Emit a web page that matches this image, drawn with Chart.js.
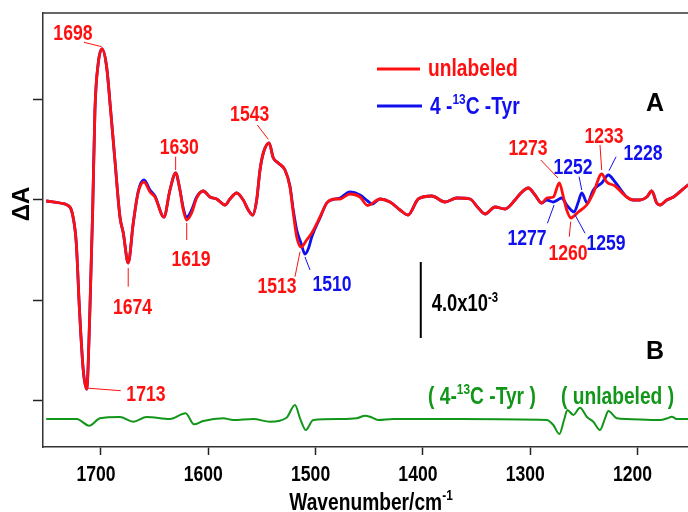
<!DOCTYPE html>
<html>
<head>
<meta charset="utf-8">
<script src="https://cdn.jsdelivr.net/npm/chart.js@4.4.1/dist/chart.umd.min.js"></script>
<style>
  html, body { margin: 0; padding: 0; background: #fff; }
  #wrap { width: 688px; height: 512px; }
</style>
</head>
<body>
<div id="wrap"><canvas id="spec"></canvas></div>
<script>
// unlabeled (red)
const wnUnlabeled = [1751, 1738, 1729, 1726, 1723, 1720, 1716.5, 1713.3, 1710.3, 1707.7, 1705.6, 1702.5, 1699, 1694.7, 1691, 1687, 1682.3, 1679.2, 1674.6, 1669.9, 1665.2, 1659.9, 1654.3, 1649.7, 1641.3, 1635.7, 1630.4, 1626.4, 1623.3, 1620.1, 1615.5, 1610.8, 1604.7, 1598.4, 1592.2, 1584.4, 1579.8, 1573.5, 1567.4, 1562.7, 1558.6, 1554.9, 1551.8, 1548.7, 1543.4, 1539.4, 1534.8, 1528.5, 1523.9, 1520.8, 1517.6, 1513.6, 1508.3, 1503.6, 1495.9, 1489.6, 1481.9, 1477.3, 1467.9, 1458.6, 1451.5, 1440, 1430.7, 1421.3, 1413.9, 1404.3, 1391.8, 1379.4, 1368.5, 1356.1, 1348.4, 1342.1, 1332.8, 1323.5, 1314.2, 1309.5, 1301.8, 1295.5, 1289.3, 1284.6, 1278.5, 1272.9, 1269.1, 1266, 1262, 1259.2, 1255.2, 1247.4, 1241.2, 1233.4, 1228.7, 1221, 1210.1, 1203.9, 1197.7, 1191.4, 1186.8, 1182.1, 1179, 1172.8, 1166.6, 1154.2, 1150];
const dAUnlabeled = [-0.01, -0.03, -0.07, -0.17, -0.43, -1.10, -1.70, -1.89, -1.10, -0.10, 0.90, 1.37, 1.51, 1.33, 0.90, 0.40, -0.17, -0.33, -0.63, -0.23, 0.08, 0.18, 0.08, 0.03, -0.17, 0.10, 0.27, 0.10, -0.10, -0.20, -0.13, 0.02, 0.09, 0.03, 0.01, -0.05, 0.01, 0.07, 0, -0.10, -0.15, 0, 0.30, 0.47, 0.57, 0.42, 0.37, 0.30, 0.13, -0.13, -0.37, -0.47, -0.40, -0.33, -0.17, -0.03, 0.01, 0.01, 0.06, 0.03, -0.055, 0.01, -0.02, -0.10, -0.15, 0.01, 0.04, -0.02, 0.02, 0.01, -0.08, -0.14, -0.07, -0.09, 0, 0.06, 0.12, 0.05, -0.03, 0.02, 0.03, 0.17, 0.03, -0.10, -0.18, -0.16, -0.12, -0.05, 0.07, 0.26, 0.18, 0.14, 0.03, 0, 0, 0.03, 0.09, -0.03, -0.05, 0, 0.03, 0.14, 0.17];

// 4-13C-Tyr (blue)
const wnLabeled = [1751, 1738, 1729, 1726, 1723, 1720, 1716.5, 1713.3, 1710.3, 1707.7, 1705.6, 1702.5, 1699, 1694.7, 1691, 1687, 1682.3, 1679.2, 1674.6, 1669.9, 1665.2, 1659.9, 1654.3, 1649.7, 1641.3, 1635.7, 1630.4, 1626.4, 1623.3, 1620.1, 1615.5, 1610.8, 1604.7, 1598.4, 1592.2, 1584.4, 1579.8, 1573.5, 1567.4, 1562.7, 1558.6, 1554.9, 1551.8, 1548.7, 1543.4, 1539.4, 1534.8, 1528.5, 1523.9, 1520.8, 1517.6, 1513.6, 1509.9, 1506.5, 1503.6, 1495.9, 1489.6, 1481.9, 1477.3, 1467.9, 1458.6, 1451.5, 1447.3, 1440, 1430.7, 1421.3, 1413.9, 1404.3, 1391.8, 1379.4, 1368.5, 1356.1, 1348.4, 1342.1, 1332.8, 1323.5, 1314.2, 1309.5, 1301.8, 1295.5, 1289.3, 1284.6, 1278.5, 1274.5, 1270.8, 1266, 1262, 1259.2, 1255.2, 1252, 1246.9, 1241.2, 1233.4, 1227.2, 1221, 1210.1, 1203.9, 1197.7, 1191.4, 1186.8, 1182.1, 1179, 1172.8, 1166.6, 1154.2, 1150];
const dALabeled = [-0.01, -0.03, -0.07, -0.17, -0.43, -1.10, -1.70, -1.89, -1.10, -0.10, 0.90, 1.37, 1.51, 1.33, 0.90, 0.40, -0.17, -0.33, -0.63, -0.23, 0.09, 0.20, 0.10, 0.04, -0.17, 0.10, 0.27, 0.10, -0.08, -0.17, -0.10, 0.03, 0.09, 0.03, 0.01, -0.05, 0.01, 0.07, 0, -0.10, -0.15, 0, 0.30, 0.47, 0.57, 0.42, 0.37, 0.30, 0.14, -0.10, -0.30, -0.43, -0.54, -0.48, -0.37, -0.18, -0.03, 0.01, 0.02, 0.08, 0.05, -0.01, -0.04, 0.01, -0.02, -0.10, -0.15, 0.01, 0.04, -0.02, 0.02, 0.01, -0.08, -0.14, -0.07, -0.09, 0, 0.06, 0.12, 0.05, -0.03, 0.00, -0.02, 0.00, 0.02, -0.05, -0.10, -0.12, -0.02, 0.07, -0.03, 0.10, 0.17, 0.25, 0.18, 0.03, 0, 0, 0.03, 0.09, -0.03, -0.05, 0, 0.03, 0.14, 0.17];

// double difference (green), relative to its own baseline
const wnDiff = [1751, 1722.6, 1710.9, 1700.9, 1682.3, 1669.9, 1657.4, 1635.7, 1621.1, 1613.3, 1604.7, 1586, 1576.7, 1558.1, 1542.5, 1527.1, 1519.2, 1514.5, 1509.2, 1502.2, 1477.3, 1461.7, 1453.9, 1449.3, 1441.6, 1427.6, 1365.4, 1284.6, 1278.5, 1272.9, 1268.5, 1265.4, 1259.8, 1253.6, 1247.4, 1241.2, 1235, 1230.3, 1227.2, 1219.4, 1210.1, 1179, 1172.2, 1168.1, 1163.5, 1154.2, 1150];
const dADiff = [0, 0, -0.067, 0.007, 0.02, -0.027, 0.02, 0, 0.057, -0.053, -0.02, 0.007, -0.01, 0, -0.027, 0.013, 0.14, 0.007, -0.11, -0.01, 0, 0.007, 0.033, 0.023, -0.01, 0, 0, -0.01, -0.06, -0.15, -0.01, 0.09, 0.04, 0.113, 0.023, -0.027, -0.11, 0.007, 0.08, 0.007, 0, -0.01, 0.007, 0.023, 0, 0, 0];
const diffOffset = -2.19;

const xTicks = [1700, 1600, 1500, 1400, 1300, 1200];
const yTicks = [-2, -1, 0, 1];

// peak labels: text, colour, text centre and leader line in data units
const peakNotes = [
  { t: '1698', c: 'red',  tx: 1726.1, ty: 1.677,  l: [1715.8, 1.577, 1699.3, 1.533] },
  { t: '1713', c: 'red',  tx: 1658.1, ty: -1.933, l: [1714.0, -1.88, 1681.6, -1.907] },
  { t: '1674', c: 'red',  tx: 1670.6, ty: -1.06,  l: [1674.6, -0.68, 1674.6, -0.867] },
  { t: '1630', c: 'red',  tx: 1627.0, ty: 0.543,  l: [1630.4, 0.433, 1630.4, 0.30] },
  { t: '1619', c: 'red',  tx: 1616.1, ty: -0.58,  l: [1620.1, -0.23, 1620.1, -0.40] },
  { t: '1543', c: 'red',  tx: 1561.4, ty: 0.867,  l: [1554.3, 0.75, 1544.1, 0.607] },
  { t: '1513', c: 'red',  tx: 1536.0, ty: -0.85,  l: [1514.5, -0.517, 1519.2, -0.767] },
  { t: '1510', c: 'blue', tx: 1484.7, ty: -0.827, l: [1509.9, -0.57, 1505.2, -0.70] },
  { t: '1273', c: 'red',  tx: 1302.1, ty: 0.533,  l: [1290.2, 0.40, 1274.1, 0.22] },
  { t: '1252', c: 'blue', tx: 1260.1, ty: 0.34,   l: [1254.5, 0.233, 1252.0, 0.10] },
  { t: '1233', c: 'red',  tx: 1231.2, ty: 0.65,   l: [1235.0, 0.55, 1233.4, 0.30] },
  { t: '1228', c: 'blue', tx: 1194.9, ty: 0.483,  l: [1220.0, 0.433, 1226.6, 0.293] },
  { t: '1277', c: 'blue', tx: 1303.0, ty: -0.367, l: [1284.0, -0.233, 1277.8, -0.05] },
  { t: '1260', c: 'red',  tx: 1264.8, ty: -0.517, l: [1263.6, -0.367, 1262.3, -0.217] },
  { t: '1259', c: 'blue', tx: 1229.4, ty: -0.417, l: [1248.9, -0.333, 1258.2, -0.15] }
];

// scale bar: 4.0x10-3 spans this many y units
const scaleBarWn = 1402;
const scaleBarTop = -0.62;
const scaleBarLen = 0.76;

const FONT = "'Liberation Sans', Arial, sans-serif";
const SQUEEZE = 0.8;   // the original uses a condensed face
const RED = '#ff1010';
const BLUE = '#1010ee';
const GREEN = '#12961a';
const colours = { red: RED, blue: BLUE };

const pts = (xs, ys, off) => xs.map((x, i) => ({ x: x, y: ys[i] + (off || 0) }));

// condensed text with superscript pieces, y = middle of the capitals
function drawRich(ctx, segs, x, y, size, colour, align) {
  ctx.save();
  ctx.fillStyle = colour;
  ctx.textBaseline = 'alphabetic';
  ctx.textAlign = 'left';
  let total = 0;
  for (const s of segs) {
    ctx.font = `bold ${s.sup ? size * 0.62 : size}px ${FONT}`;
    total += ctx.measureText(s.t).width * SQUEEZE;
  }
  let cx = align === 'center' ? x - total / 2 : x;
  for (const s of segs) {
    const fs = s.sup ? size * 0.62 : size;
    ctx.font = `bold ${fs}px ${FONT}`;
    ctx.save();
    ctx.translate(cx, y + size * 0.36 - (s.sup ? size * 0.42 : 0));
    ctx.scale(SQUEEZE, 1);
    ctx.fillText(s.t, 0, 0);
    ctx.restore();
    cx += ctx.measureText(s.t).width * SQUEEZE;
  }
  ctx.restore();
}

const decorations = {
  id: 'decorations',
  afterDatasetsDraw(chart) {
    const ctx = chart.ctx;
    const xs = chart.scales.x, ys = chart.scales.y;
    const area = chart.chartArea;
    ctx.save();
    // top frame line
    ctx.strokeStyle = '#333';
    ctx.lineWidth = 1.5;
    ctx.beginPath();
    ctx.moveTo(area.left, area.top);
    ctx.lineTo(area.right, area.top);
    ctx.stroke();

    // x tick labels (set a little left of the tick, as in the original)
    for (const v of xTicks) {
      drawRich(ctx, [{ t: String(v) }], xs.getPixelForValue(v) - 5, 473, 22, '#000', 'center');
    }

    // peak labels
    for (const n of peakNotes) {
      const col = colours[n.c];
      ctx.strokeStyle = col;
      ctx.lineWidth = 1;
      ctx.beginPath();
      ctx.moveTo(xs.getPixelForValue(n.l[0]), ys.getPixelForValue(n.l[1]));
      ctx.lineTo(xs.getPixelForValue(n.l[2]), ys.getPixelForValue(n.l[3]));
      ctx.stroke();
      drawRich(ctx, [{ t: n.t }], xs.getPixelForValue(n.tx), ys.getPixelForValue(n.ty), 22, col, 'center');
    }

    // scale bar
    const sbx = xs.getPixelForValue(scaleBarWn);
    ctx.strokeStyle = '#000';
    ctx.lineWidth = 2;
    ctx.beginPath();
    ctx.moveTo(sbx, ys.getPixelForValue(scaleBarTop));
    ctx.lineTo(sbx, ys.getPixelForValue(scaleBarTop - scaleBarLen));
    ctx.stroke();
    drawRich(ctx, [{ t: '4.0x10' }, { t: '-3', sup: true }], sbx + 11, ys.getPixelForValue(scaleBarTop - scaleBarLen / 2) + 3, 23, '#000', 'left');

    // legend
    ctx.lineWidth = 3;
    ctx.strokeStyle = RED;
    ctx.beginPath(); ctx.moveTo(377, 69); ctx.lineTo(420, 69); ctx.stroke();
    ctx.strokeStyle = BLUE;
    ctx.beginPath(); ctx.moveTo(377, 106); ctx.lineTo(422, 106); ctx.stroke();
    drawRich(ctx, [{ t: 'unlabeled' }], 428, 67, 24, RED, 'left');
    drawRich(ctx, [{ t: '4 -' }, { t: '13', sup: true }, { t: 'C -Tyr' }], 430, 105, 24, BLUE, 'left');

    // panel letters
    ctx.fillStyle = '#000';
    ctx.font = `bold 25px 'Liberation Sans', Arial, sans-serif`;
    ctx.textAlign = 'center';
    ctx.textBaseline = 'middle';
    ctx.fillText('A', 655, 104);
    ctx.fillText('B', 655, 352);

    // trace B labels
    drawRich(ctx, [{ t: '( 4-' }, { t: '13', sup: true }, { t: 'C -Tyr )' }], 428, 395, 24, GREEN, 'left');
    drawRich(ctx, [{ t: '( unlabeled )' }], 561, 395, 24, GREEN, 'left');

    // axis titles
    drawRich(ctx, [{ t: 'Wavenumber/cm' }, { t: '-1', sup: true }], 371, 501, 24, '#000', 'center');
    ctx.translate(22, 204);
    ctx.rotate(-Math.PI / 2);
    ctx.font = `bold 24px 'Liberation Sans', Arial, sans-serif`;
    ctx.fillStyle = '#000';
    ctx.textAlign = 'center';
    ctx.textBaseline = 'middle';
    ctx.fillText('\u0394A', 0, 0);
    ctx.restore();
  }
};

new Chart(document.getElementById('spec').getContext('2d'), {
  type: 'line',
  data: {
    datasets: [
      { label: 'unlabeled', data: pts(wnUnlabeled, dAUnlabeled), borderColor: RED, borderWidth: 2.8 },
      { label: '4-13C-Tyr', data: pts(wnLabeled, dALabeled), borderColor: BLUE, borderWidth: 2.8 },
      { label: 'difference', data: pts(wnDiff, dADiff, diffOffset), borderColor: GREEN, borderWidth: 2 }
    ]
  },
  options: {
    responsive: true,
    maintainAspectRatio: false,
    animation: false,
    layout: { padding: { top: 13, right: 0, left: 0, bottom: 0 } },
    elements: {
      point: { radius: 0 },
      line: { cubicInterpolationMode: 'monotone', fill: false }
    },
    plugins: {
      legend: { display: false },
      tooltip: { enabled: false }
    },
    scales: {
      x: {
        type: 'linear',
        reverse: true,
        min: 1153,
        max: 1754,
        afterBuildTicks: axis => { axis.ticks = xTicks.map(v => ({ value: v })); },
        afterFit: axis => { axis.height = 65; },
        ticks: { display: false },
        grid: { drawOnChartArea: false, tickLength: 8, color: '#222', tickWidth: 1.5 },
        border: { color: '#333', width: 1.5 }
      },
      y: {
        min: -2.47,
        max: 1.87,
        afterBuildTicks: axis => { axis.ticks = yTicks.map(v => ({ value: v })); },
        afterFit: axis => { axis.width = 43; },
        ticks: { display: false },
        grid: { drawOnChartArea: false, tickLength: 10, color: '#222', tickWidth: 1.5 },
        border: { color: '#333', width: 1.5 }
      }
    }
  },
  plugins: [decorations]
});
</script>
</body>
</html>
